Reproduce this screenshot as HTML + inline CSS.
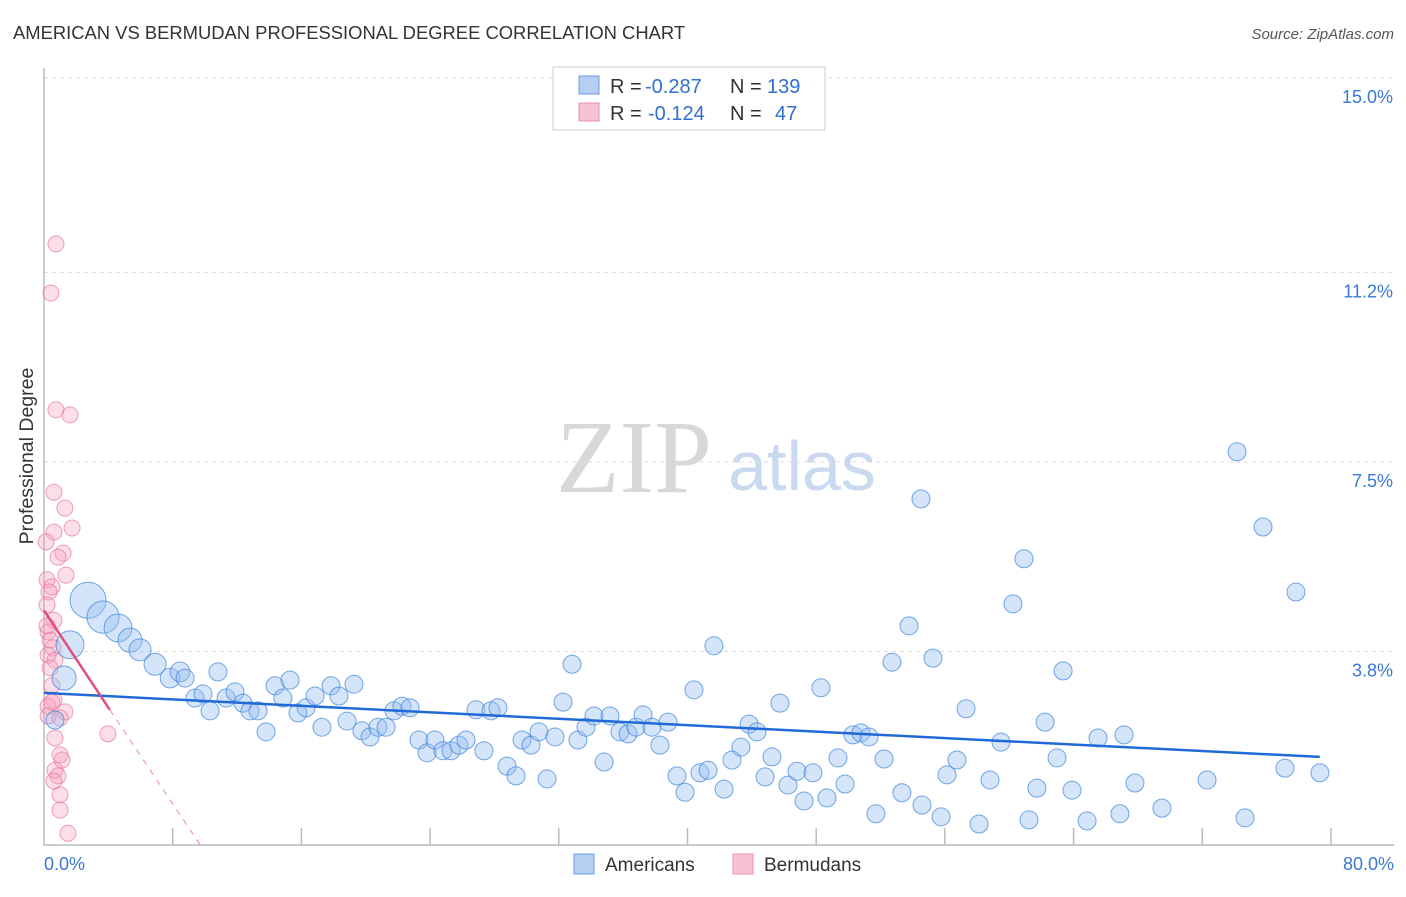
<!DOCTYPE html>
<html><head><meta charset="utf-8"><style>
body{margin:0;background:#fff;font-family:"Liberation Sans",sans-serif}
</style></head><body>
<svg id="c" width="1406" height="892" xmlns="http://www.w3.org/2000/svg" font-family="Liberation Sans, sans-serif">
<text x="13" y="39" font-size="18.4" fill="#333">AMERICAN VS BERMUDAN PROFESSIONAL DEGREE CORRELATION CHART</text>
<text x="1394" y="39" font-size="15" fill="#555" font-style="italic" text-anchor="end">Source: ZipAtlas.com</text>
<text x="33" y="456" font-size="19.5" fill="#333" text-anchor="middle" transform="rotate(-90 33 456)">Professional Degree</text>
<g><text x="634" y="492" font-size="104" style="font-family:'Liberation Serif',serif" fill="#d8d8d8" text-anchor="middle">ZIP</text><text x="802" y="490" font-size="70" fill="#c9d9f0" text-anchor="middle">atlas</text></g>
<g id="grid"></g><g id="marks"></g>
<g>
<rect x="553" y="67" width="272" height="63" fill="#fff" stroke="#ccc"/>
<rect x="579" y="76" width="20" height="18" fill="#b5cff3" stroke="#6a9be0"/>
<rect x="579" y="103" width="20" height="18" fill="#f9c2d2" stroke="#e890ab"/>
<text x="610" y="93" font-size="20" fill="#333">R =</text><text x="645" y="93" font-size="20" fill="#2f6fd0">-0.287</text>
<text x="730" y="93" font-size="20" fill="#333">N =</text><text x="767" y="93" font-size="20" fill="#2f6fd0">139</text>
<text x="610" y="120" font-size="20" fill="#333">R =</text><text x="648" y="120" font-size="20" fill="#2f6fd0">-0.124</text>
<text x="730" y="120" font-size="20" fill="#333">N =</text><text x="775" y="120" font-size="20" fill="#2f6fd0">47</text>
</g>
<g>
<rect x="574" y="854" width="20" height="20" fill="#b5cff3" stroke="#6a9be0"/>
<text x="605" y="871" font-size="19" fill="#333">Americans</text>
<rect x="733" y="854" width="20" height="20" fill="#f9c2d2" stroke="#e890ab"/>
<text x="764" y="871" font-size="19" fill="#333">Bermudans</text>
</g>
</svg>
<script>
const yTicks=[15.0,11.2,7.5,3.8];
const yTickLabels=["15.0%","11.2%","7.5%","3.8%"];
const xTickCount=10;
const xLabels=["0.0%","80.0%"];
const blueX=[2.61,3.50,4.39,1.54,1.19,5.10,5.69,6.58,7.47,8.06,8.36,8.95,9.42,9.84,10.31,10.79,11.32,11.79,12.21,12.68,13.16,13.69,14.16,14.58,15.05,15.53,16.06,16.47,17.01,17.48,17.96,18.37,18.84,19.32,19.79,20.27,20.74,21.21,21.69,22.22,22.70,23.17,23.64,24.12,24.59,25.01,25.60,26.07,26.49,26.90,27.44,27.97,28.33,28.86,29.33,29.81,30.28,30.76,31.29,31.64,32.12,32.59,33.19,33.54,34.13,34.61,35.08,35.50,36.03,36.50,36.98,37.51,37.99,38.52,38.87,39.35,39.70,40.30,40.77,41.30,41.78,42.25,42.73,43.14,43.61,44.09,44.62,45.04,45.57,46.04,46.40,47.05,47.47,47.94,48.41,48.89,49.30,49.78,50.25,50.84,51.26,52.03,51.97,52.68,53.16,53.51,54.10,54.64,55.41,56.06,56.71,57.42,58.07,58.37,58.84,59.32,60.03,60.39,60.92,61.81,62.46,63.76,64.00,64.65,66.25,68.92,70.70,71.17,72.24,73.54,74.19,75.61,0.65];
const blueY=[4.80,4.47,4.26,3.93,3.28,4.02,3.83,3.55,3.28,3.40,3.28,2.89,2.97,2.64,3.40,2.89,3.01,2.79,2.64,2.64,2.23,3.13,2.89,3.24,2.60,2.70,2.93,2.32,3.13,2.93,2.44,3.16,2.25,2.13,2.32,2.32,2.64,2.73,2.70,2.07,1.82,2.07,1.86,1.86,1.97,2.07,2.66,1.86,2.64,2.70,1.56,1.37,2.07,1.97,2.23,1.31,2.13,2.81,3.55,2.07,2.32,2.54,1.64,2.54,2.23,2.19,2.32,2.56,2.32,1.97,2.42,1.37,1.05,3.05,1.43,1.48,3.91,1.11,1.68,1.93,2.38,2.23,1.35,1.74,2.79,1.19,1.46,0.88,1.43,3.09,0.94,1.72,1.21,2.17,2.21,2.13,0.63,1.70,3.59,1.04,4.30,0.80,6.78,3.67,0.57,1.39,1.68,2.68,0.43,1.29,2.03,4.73,5.61,0.51,1.13,2.42,1.72,3.42,1.09,0.49,2.11,0.63,2.17,1.23,0.74,1.29,7.70,0.55,6.23,1.52,4.96,1.43,2.46];
const blueWeight=[4,3.2,2.4,2.4,1.8,1.8,1.5,1.5,1.2,1.2];
const pinkX=[0.71,0.41,0.71,1.54,0.59,1.24,1.66,0.59,1.13,0.83,0.12,1.30,0.18,0.47,0.30,0.18,0.59,0.24,0.36,0.53,0.24,0.65,0.36,0.47,0.59,0.24,1.24,0.95,0.65,3.79,0.95,1.07,0.65,0.83,0.59,0.95,0.95,1.42,0.24,0.18,0.47];
const pinkY=[11.76,10.80,8.52,8.42,6.91,6.60,6.21,6.13,5.72,5.64,5.94,5.29,5.20,5.06,4.96,4.71,4.41,4.18,4.02,3.87,3.73,3.63,3.48,3.13,2.85,2.73,2.62,2.50,2.11,2.19,1.78,1.68,1.48,1.37,1.27,1.00,0.70,0.25,2.54,4.30,2.81];
const blueTrend=[[0,2.99],[75.6,1.74]];
const pinkTrend=[[0,4.60],[3.9,2.66]];
const pinkDash=[[3.9,2.66],[9.3,0]];
const X0=44,X1=1394,Y0=846,YTOP=78;
const sx=v=>X0+v/80*(X1-X0);
const sy=v=>Y0-v/15*(Y0-YTOP);
const NS="http://www.w3.org/2000/svg";
function mk(tag,attrs,parent){const e=document.createElementNS(NS,tag);for(const k in attrs)e.setAttribute(k,attrs[k]);parent.appendChild(e);return e;}
const grid=document.getElementById('grid'),marks=document.getElementById('marks');
yTicks.forEach((t,i)=>{
 const l=mk('line',{x1:X0,x2:X1,y1:sy(t),y2:sy(t),stroke:'#ddd','stroke-dasharray':'4,4'},grid);
 
 
 const tx=mk('text',{x:1393,y:sy(t)+25,'font-size':18,fill:'#3a78d6','text-anchor':'end'},grid);
 tx.textContent=yTickLabels[i];
 
 
});
const ax=mk('path',{d:`M${X0} 68V${Y0-1}H${X1}`,fill:'none',stroke:'#bbb','stroke-width':1.5},grid);


for(let k=1;k<=xTickCount;k++){
 const xv=k*80/10.49;
 const t=mk('line',{x1:sx(xv),x2:sx(xv),y1:828,y2:845,stroke:'#bbb','stroke-width':1.5},grid);
 
 
}
[[0,'start',44],[80,'end',1394]].forEach((a,i)=>{
 const tx=mk('text',{x:a[2],y:870,'font-size':18,fill:'#3a78d6','text-anchor':a[1]},grid);
 tx.textContent=xLabels[i];
 
 
});
pinkX.forEach((x,i)=>{
 const c=mk('circle',{cx:sx(x),cy:sy(pinkY[i]),r:8,fill:'rgba(246,160,188,0.35)',stroke:'rgba(232,120,155,0.7)'},marks);
 
 
});
blueX.forEach((x,i)=>{
 const w=blueWeight[i]||1;
 const c=mk('circle',{cx:sx(x),cy:sy(blueY[i]),r:9*Math.sqrt(w),fill:'rgba(150,190,240,0.4)',stroke:'rgba(60,130,220,0.7)'},marks);
 
 
});
function line(p,attrs,name){const l=mk('line',Object.assign({x1:sx(p[0][0]),y1:sy(p[0][1]),x2:sx(p[1][0]),y2:sy(p[1][1])},attrs),marks);
 
 }
line(blueTrend,{stroke:'#1f6ad6','stroke-width':2.5},'american-trend-line');
line(pinkTrend,{stroke:'#e0507e','stroke-width':2.5},'bermudan-trend-line');
line(pinkDash,{stroke:'#e88aa8','stroke-width':1,'stroke-dasharray':'6,6'},'bermudan-trend-extension');
</script>
</body></html>
